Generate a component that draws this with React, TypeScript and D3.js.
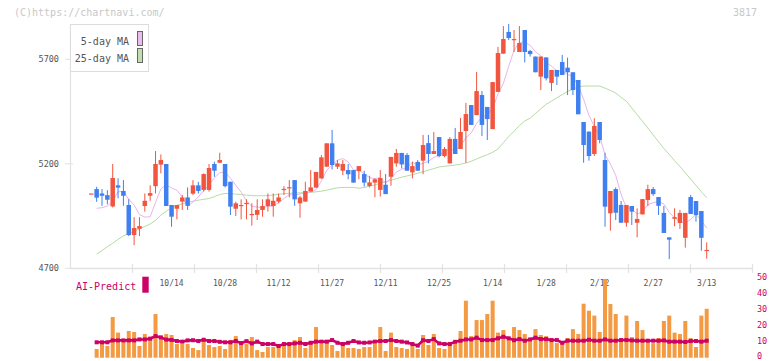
import React from "react";
import * as d3 from "d3";

const dates = [
  "9/19","9/22","9/24","9/25","9/26","9/29","9/30","10/1","10/2","10/3",
  "10/6","10/7","10/8","10/9","10/10","10/14","10/15","10/16","10/17","10/20",
  "10/21","10/22","10/23","10/24","10/27","10/28","10/29","10/30","10/31","11/4",
  "11/5","11/6","11/7","11/10","11/11","11/12","11/13","11/14","11/17","11/18",
  "11/19","11/20","11/21","11/25","11/26","11/27","11/28","12/1","12/2","12/3",
  "12/4","12/5","12/8","12/9","12/10","12/11","12/12","12/15","12/16","12/17",
  "12/18","12/19","12/22","12/23","12/24","12/25","12/26","12/29","12/30","1/5",
  "1/6","1/7","1/8","1/9","1/13","1/14","1/15","1/16","1/19","1/20",
  "1/21","1/22","1/23","1/26","1/27","1/28","1/29","1/30","2/2","2/3",
  "2/4","2/5","2/6","2/9","2/10","2/12","2/13","2/16","2/17","2/18",
  "2/19","2/20","2/24","2/25","2/26","2/27","3/2","3/3","3/4","3/5",
  "3/6","3/9","3/10","3/11","3/12","3/13"
];

const opens = [
  5058,5079,5058,5050,4996,5097,5070,5003,4859,4889,
  4998,5047,5093,5196,5199,5003,4985,5019,5039,5057,
  5097,5075,5075,5199,5205,5199,5114,4985,4999,5009,
  4957,4956,4979,4998,4998,5019,5077,5085,5122,5011,
  5019,5067,5086,5130,5186,5298,5186,5167,5170,5170,
  5165,5151,5094,5110,5075,5100,5138,5202,5252,5242,
  5159,5209,5215,5299,5247,5328,5237,5202,5319,5271,
  5357,5481,5433,5529,5472,5366,5544,5727,5831,5794,
  5735,5840,5740,5713,5617,5709,5587,5649,5687,5660,
  5638,5601,5400,5354,5247,5400,5218,4963,5079,5003,
  4918,4998,4918,4958,5027,5079,5041,4965,4848,4937,
  4917,4846,5041,5022,4974,4784
];
const highs = [
  5058,5090,5079,5074,5199,5130,5122,5031,4945,4945,
  5058,5097,5261,5245,5199,5003,5003,5051,5087,5122,
  5114,5154,5199,5210,5253,5199,5114,5019,5030,5030,
  5011,5030,5030,5058,5058,5058,5093,5122,5122,5046,
  5114,5170,5161,5242,5298,5362,5218,5218,5199,5170,
  5189,5167,5143,5130,5170,5151,5233,5271,5252,5252,
  5210,5218,5338,5338,5352,5328,5280,5328,5371,5419,
  5491,5481,5639,5548,5472,5591,5759,5859,5869,5840,
  5859,5840,5745,5713,5713,5709,5649,5649,5721,5708,
  5638,5601,5400,5354,5418,5400,5253,5070,5087,5022,
  5003,4998,4987,5031,5100,5089,5041,4998,4848,4987,
  4979,4965,5051,5022,4974,4824
];
const lows = [
  5058,5018,4999,5006,4991,5035,4999,4854,4811,4854,
  4971,5023,5058,5154,4998,4899,4934,4979,4979,5051,
  5058,5067,5067,5138,5205,5087,4955,4950,4934,4934,
  4904,4931,4947,4971,4947,5011,5051,5039,4999,4942,
  5019,5067,5086,5130,5186,5173,5175,5146,5126,5110,
  5126,5091,5087,5040,5043,5055,5095,5186,5178,5167,
  5130,5167,5150,5202,5247,5231,5231,5202,5247,5271,
  5205,5386,5433,5333,5314,5366,5544,5727,5792,5735,
  5735,5685,5713,5638,5553,5599,5548,5577,5625,5529,
  5529,5437,5205,5215,5237,5298,4899,4880,4931,4918,
  4899,4907,4848,4958,4998,5047,4955,4869,4744,4901,
  4888,4799,4960,4923,4784,4746
];
const closes = [
  5058,5038,5047,5028,5132,5086,5047,4859,4893,4902,
  5023,5060,5199,5218,4998,4947,5003,5039,4999,5097,
  5070,5151,5180,5167,5218,5093,4995,5011,5003,5013,
  4960,4979,4998,5030,5023,5039,5080,5088,5030,5039,
  5070,5087,5161,5231,5298,5194,5202,5199,5150,5110,
  5189,5110,5111,5126,5132,5055,5233,5252,5197,5167,
  5189,5167,5290,5247,5261,5237,5271,5319,5247,5352,
  5438,5386,5548,5386,5414,5591,5730,5797,5802,5797,
  5778,5735,5725,5638,5713,5609,5649,5617,5625,5638,
  5553,5437,5290,5237,5381,5314,4995,5070,4966,4918,
  5003,4971,4936,5031,5079,5055,4999,4869,4837,4945,
  4965,4965,4960,4955,4846,4788
];

const ma5 = [
  null,4987,4990,4998,5020,5066,5068,5030,5003,4957,
  4945,4947,5015,5080,5100,5084,5073,5041,4997,5017,
  5042,5071,5099,5133,5157,5162,5131,5097,5064,5023,
  4996,4993,4991,4996,4998,5014,5034,5052,5052,5055,
  5061,5063,5077,5118,5169,5194,5217,5225,5209,5171,
  5170,5152,5134,5129,5134,5107,5131,5160,5174,5181,
  5208,5194,5202,5212,5231,5240,5261,5267,5267,5285,
  5325,5348,5394,5422,5434,5465,5534,5584,5667,5743,
  5781,5782,5767,5735,5718,5684,5667,5645,5643,5628,
  5616,5574,5509,5431,5380,5332,5243,5199,5145,5053,
  4990,4986,4959,4972,5004,5014,5020,5007,4968,4941,
  4923,4916,4934,4958,4928,4893
];
const ma25 = [
  null,4768,4785,4803,4820,4838,4855,4866,4877,4889,
  4900,4912,4929,4954,4973,4990,5001,5008,5016,5021,
  5026,5030,5034,5043,5053,5058,5057,5055,5053,5050,
  5048,5047,5047,5048,5051,5054,5057,5059,5060,5061,
  5062,5063,5066,5069,5074,5080,5085,5087,5087,5087,
  5083,5087,5093,5099,5106,5114,5121,5129,5136,5142,
  5148,5155,5162,5170,5177,5185,5188,5191,5194,5198,
  5204,5212,5223,5234,5244,5255,5271,5301,5330,5356,
  5383,5405,5418,5441,5463,5485,5500,5516,5531,5546,
  5557,5568,5572,5572,5572,5572,5562,5551,5539,5518,
  5499,5467,5435,5404,5371,5338,5306,5273,5245,5215,
  5187,5157,5127,5097,5066,5038
];

const volumes = [
  null,5.5,9.5,7.4,25.6,15.8,11.1,16.8,16.2,7.4,
  14.9,11.1,27.5,12.2,14.9,14.3,8.6,8.6,8.6,6.1,
  4.8,10.5,8.0,6.7,7.4,5.5,11.1,13.6,9.8,8.6,
  13.0,4.8,3.6,6.7,6.7,8.6,8.0,7.4,11.1,13.0,
  6.1,10.5,19.3,8.6,10.5,8.0,4.2,8.6,6.1,6.1,
  5.5,6.7,6.7,8.6,19.3,4.2,15.8,6.7,6.1,5.5,
  7.4,5.5,14.3,8.0,14.9,6.1,5.5,7.4,8.6,16.8,
  35.9,13.6,23.7,23.7,27.5,35.9,15.8,17.4,11.5,19.3,
  17.4,14.9,10.5,18.0,14.3,13.6,11.1,9.2,8.6,12.4,
  18.0,14.9,34.0,29.6,26.5,16.2,49.6,33.8,27.5,11.1,
  26.5,13.0,23.1,17.4,11.8,9.2,12.4,23.1,26.5,15.8,
  14.9,23.1,12.4,6.7,26.5,30.8
];
const aiPredict = [
  null,9.7,9.7,9.7,10.9,10.9,10.9,10.9,10.9,11.5,
  11.5,12.0,13.6,12.8,11.4,11.2,10.5,10.1,10.9,11.0,
  10.5,11.3,10.5,10.5,10.0,9.7,9.7,10.5,9.2,10.4,
  9.0,10.1,8.6,8.6,8.6,7.4,8.6,8.6,9.0,9.4,
  8.6,9.4,10.1,10.1,10.1,11.1,9.4,8.6,9.4,10.5,
  9.6,9.4,9.6,10.1,10.5,10.5,11.1,10.5,10.1,9.6,
  8.6,7.6,11.0,10.5,11.7,9.0,8.6,8.6,10.0,10.7,
  11.5,11.5,12.6,11.1,11.1,11.1,12.2,13.2,12.2,11.0,
  11.7,10.7,11.5,12.6,11.7,11.7,11.1,11.1,9.4,10.7,
  10.7,10.7,10.7,11.3,10.7,10.7,11.5,10.7,10.7,11.1,
  11.1,10.9,10.7,10.7,10.7,10.7,10.7,10.9,10.1,10.1,
  10.1,9.9,10.5,10.5,10.1,10.7
];

const tickLabels = ["10/14","10/28","11/12","11/27","12/11","12/25","1/14","1/28","2/12","2/27","3/13"];
const priceTicks = [4700, 5200, 5700];
const volTicks = [0, 10, 20, 30, 40, 50];
const gridSlots = 11;

const RED = "#f2553f";
const BLUE = "#3f7ff0";
const ORANGE = "#f39a42";
const MAGENTA = "#cc0066";
const MONO = "'DejaVu Sans Mono', 'Liberation Mono', monospace";

export default function App() {
  const W = 772, H = 361;
  const x = d3.scaleLinear().domain([0, dates.length - 1]).range([91.3, 706.7]);
  const y = d3.scaleLinear().domain([4700, 5700]).range([268.3, 59.3]);
  const vy = d3.scaleLinear().domain([0, 50]).range([357.7, 278.3]);
  const gx = d3.scaleLinear().domain([0, gridSlots]).range([70, 752]);

  const maLine = d3.line<number | null>()
    .defined((d) => d != null)
    .x((_, i) => x(i))
    .y((d) => y(d as number));
  const aiLine = d3.line<number | null>()
    .defined((d) => d != null)
    .x((_, i) => x(i))
    .y((d) => vy(d as number));

  const bw = 4.5;

  return (
    <svg width={W} height={H} style={{ position: "absolute", left: 0, top: 0, background: "#fff" }}
      fontFamily={MONO}>
      <rect x={0} y={0} width={W} height={H} fill="#fff" />
      <text x={14} y={16} fontSize={10} fill="#c8c8c8">(C)https://chartnavi.com/</text>
      <text x={757} y={16} fontSize={10} fill="#c8c8c8" textAnchor="end">3817</text>

      {/* axes */}
      <line x1={70.5} x2={70.5} y1={24} y2={268.5} stroke="#e2e2e2" strokeWidth={1.2} />
      <line x1={70} x2={752} y1={268.5} y2={268.5} stroke="#e2e2e2" strokeWidth={1.5} />
      {d3.range(1, gridSlots + 1).map((k) => (
        <line key={"gt" + k} x1={Math.round(gx(k)) + 0.5} x2={Math.round(gx(k)) + 0.5} y1={264} y2={273}
          stroke="#e2e2e2" strokeWidth={1.2} />
      ))}
      {priceTicks.map((t) => (
        <g key={"pt" + t}>
          <line x1={65} x2={73} y1={y(t)} y2={y(t)} stroke="#e2e2e2" />
          <text x={59} y={y(t) + 3} fontSize={8.5} fill="#555" textAnchor="end">{t}</text>
        </g>
      ))}

      {/* moving averages */}
      <path d={maLine(ma25) || ""} fill="none" stroke="#b5dca3" strokeWidth={1} />
      <path d={maLine(ma5) || ""} fill="none" stroke="#e8b5ea" strokeWidth={1} />

      {/* candles */}
      {dates.map((_, i) => {
        const o = opens[i], c = closes[i], h = highs[i], l = lows[i];
        const col = c >= o ? RED : BLUE;
        const cx = x(i);
        const top = y(Math.max(o, c));
        const bh = Math.max(1.2, Math.abs(y(o) - y(c)));
        return (
          <g key={"c" + i}>
            <line x1={cx} x2={cx} y1={y(h)} y2={y(l)} stroke={col} strokeWidth={1} />
            <rect x={cx - bw / 2} y={top} width={bw} height={bh} fill={col} />
          </g>
        );
      })}

      {/* legend */}
      <rect x={70.5} y={24.5} width={78} height={47} fill="#fff" stroke="#dcdcdc" />
      <text x={129} y={45} fontSize={10} fill="#555" textAnchor="end">5-day MA</text>
      <text x={129} y={61.5} fontSize={10} fill="#555" textAnchor="end">25-day MA</text>
      <rect x={137.5} y={31.5} width={5} height={14} fill="#ecbdec" stroke="#666" />
      <rect x={137.5} y={48.5} width={5} height={14} fill="#bfdfae" stroke="#666" />

      {/* x labels */}
      {tickLabels.map((t) => (
        <text key={"xl" + t} x={x(dates.indexOf(t))} y={286} fontSize={8} fill="#555" textAnchor="middle">{t}</text>
      ))}

      {/* AI-Predict label */}
      <text x={76} y={290} fontSize={10} fill={MAGENTA}>AI-Predict</text>
      <rect x={142.3} y={276.7} width={6.4} height={16} fill={MAGENTA} />

      {/* volume */}
      {volumes.map((v, i) => v == null ? null : (
        <rect key={"v" + i} x={x(i) - 2} y={vy(v)} width={4} height={vy(0) - vy(v)} fill={ORANGE} />
      ))}
      <path d={aiLine(aiPredict) || ""} fill="none" stroke={MAGENTA} strokeWidth={2.6} />
      {aiPredict.map((v, i) => v == null ? null : (
        <rect key={"a" + i} x={x(i) - 2} y={vy(v) - 2} width={4} height={4} fill={MAGENTA} />
      ))}

      {volTicks.map((t) => (
        <text key={"vt" + t} x={757} y={Math.min(vy(t) + 2, 359)} fontSize={8.5} fill={MAGENTA}>{t}</text>
      ))}
    </svg>
  );
}
